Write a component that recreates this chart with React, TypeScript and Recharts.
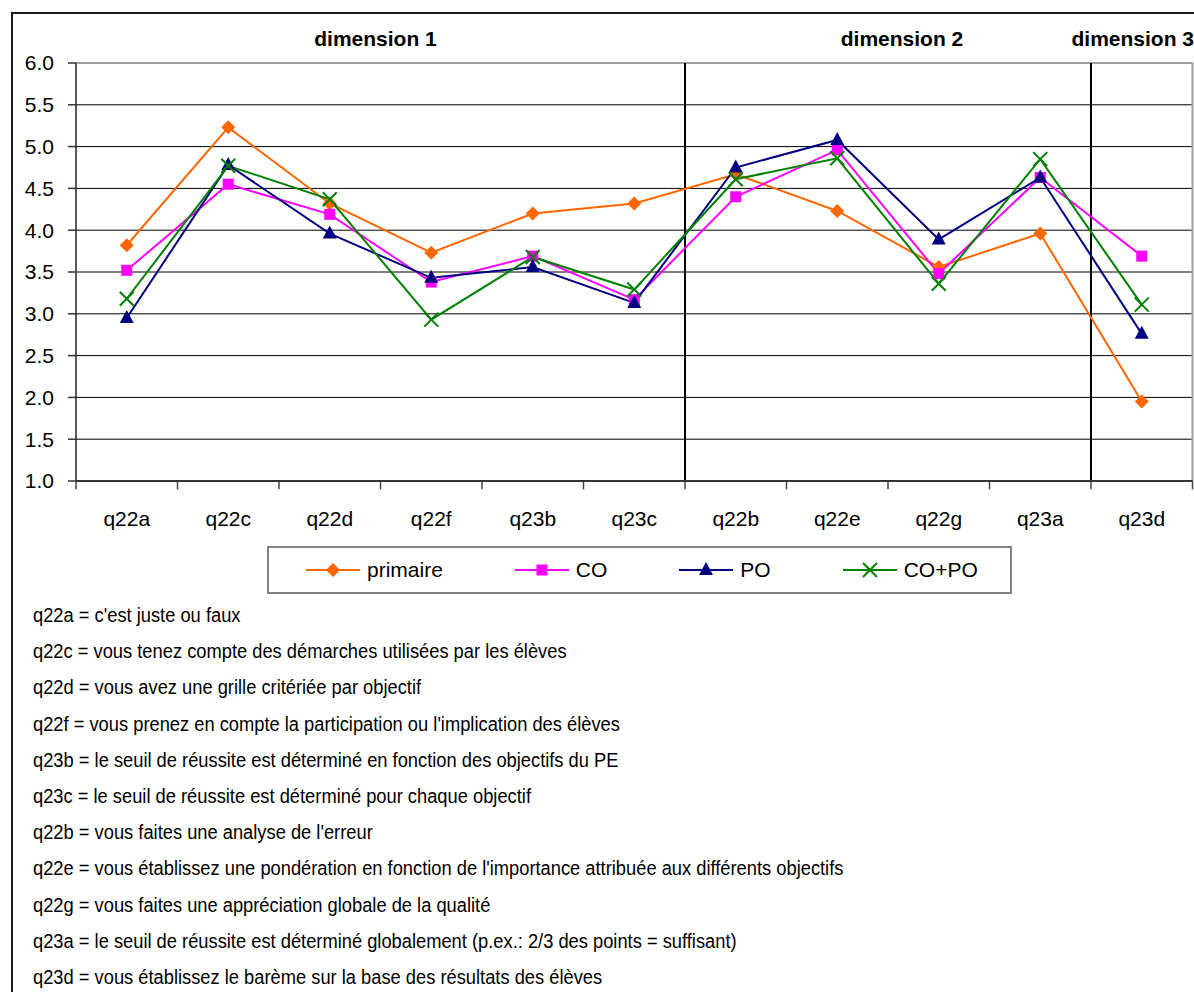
import React from 'react';
import { LineChart, Line, XAxis, YAxis, CartesianGrid, ReferenceLine, ReferenceArea } from 'recharts';

const CATEGORIES = ['q22a', 'q22c', 'q22d', 'q22f', 'q23b', 'q23c', 'q22b', 'q22e', 'q22g', 'q23a', 'q23d'];
const PRIMAIRE = [3.82, 5.23, 4.32, 3.73, 4.2, 4.32, 4.67, 4.23, 3.56, 3.96, 1.95];
const CO = [3.52, 4.55, 4.19, 3.38, 3.69, 3.17, 4.4, 4.96, 3.48, 4.63, 3.69];
const PO = [2.95, 4.78, 3.96, 3.43, 3.56, 3.13, 4.75, 5.08, 3.89, 4.63, 2.76];
const CO_PO = [3.18, 4.77, 4.37, 2.93, 3.68, 3.29, 4.61, 4.86, 3.36, 4.85, 3.11];
const Y_TICKS = [1, 1.5, 2, 2.5, 3, 3.5, 4, 4.5, 5, 5.5, 6];

const DIMENSIONS = ['dimension 1', 'dimension 2', 'dimension 3'];
// first / last category index of each dimension
const DIMENSION_FROM = [0, 6, 10];
const DIMENSION_TO = [5, 9, 10];

const DEFINITIONS = [
  "q22a = c'est juste ou faux",
  'q22c = vous tenez compte des démarches utilisées par les élèves',
  'q22d = vous avez une grille critériée par objectif',
  "q22f = vous prenez en compte la participation ou l'implication des élèves",
  'q23b = le seuil de réussite est déterminé en fonction des objectifs du PE',
  'q23c = le seuil de réussite est déterminé pour chaque objectif',
  "q22b = vous faites une analyse de l'erreur",
  "q22e = vous établissez une pondération en fonction de l'importance attribuée aux différents objectifs",
  'q22g = vous faites une appréciation globale de la qualité',
  'q23a = le seuil de réussite est déterminé globalement (p.ex.: 2/3 des points = suffisant)',
  'q23d = vous établissez le barème sur la base des résultats des élèves',
];

const SERIES = [
  { key: 'primaire', name: 'primaire', color: '#FF6600', shape: 'diamond' },
  { key: 'co', name: 'CO', color: '#FF00FF', shape: 'square' },
  { key: 'po', name: 'PO', color: '#000080', shape: 'triangle' },
  { key: 'copo', name: 'CO+PO', color: '#008000', shape: 'cross' },
];

const data = CATEGORIES.map((cat, i) => ({
  idx: i,
  cat,
  primaire: PRIMAIRE[i],
  co: CO[i],
  po: PO[i],
  copo: CO_PO[i],
}));

const FONT = '"Liberation Sans", Arial, sans-serif';
const labelShift = [-5, 14, -9];

const Marker = ({ cx, cy, shape, color }: any) => {
  if (cx == null || cy == null) return null;
  if (shape === 'diamond') {
    return <polygon points={`${cx},${cy - 7} ${cx + 7},${cy} ${cx},${cy + 7} ${cx - 7},${cy}`} fill={color} />;
  }
  if (shape === 'square') {
    return <rect x={cx - 5.5} y={cy - 5.5} width={11} height={11} fill={color} />;
  }
  if (shape === 'triangle') {
    return <polygon points={`${cx},${cy - 8} ${cx + 7},${cy + 5} ${cx - 7},${cy + 5}`} fill={color} />;
  }
  return (
    <g stroke={color} strokeWidth={2}>
      <line x1={cx - 7} y1={cy - 7} x2={cx + 7} y2={cy + 7} />
      <line x1={cx - 7} y1={cy + 7} x2={cx + 7} y2={cy - 7} />
    </g>
  );
};

const ChartLegend = () => (
  <div
    style={{
      position: 'absolute',
      left: 267,
      top: 546,
      width: 745,
      height: 48,
      border: '2px solid #808080',
      display: 'flex',
      alignItems: 'center',
      paddingLeft: 37,
      boxSizing: 'border-box',
      fontFamily: FONT,
      fontSize: 21,
    }}
  >
    {SERIES.map((s) => (
      <div key={s.key} style={{ display: 'flex', alignItems: 'center', marginRight: 72 }}>
        <svg width={54} height={20}>
          <line x1={0} y1={10} x2={54} y2={10} stroke={s.color} strokeWidth={2} />
          <Marker cx={27} cy={10} shape={s.shape} color={s.color} />
        </svg>
        <span style={{ marginLeft: 7 }}>{s.name}</span>
      </div>
    ))}
  </div>
);

export default function App() {
  const bounds = CATEGORIES.map((_, i) => i - 0.5).concat(CATEGORIES.length - 0.5);
  return (
    <div
      style={{
        position: 'absolute',
        left: 0,
        top: 0,
        width: 1194,
        height: 992,
        overflow: 'hidden',
        background: '#fff',
        fontFamily: FONT,
      }}
    >
      <div
        style={{
          position: 'absolute',
          left: 11,
          top: 12,
          width: 1300,
          height: 1100,
          border: '2px solid #1a1a1a',
        }}
      />
      <div style={{ position: 'absolute', left: 0, top: 0 }}>
        <LineChart width={1194} height={530} data={data} margin={{ top: 63, right: 1.5, bottom: 0, left: 0 }}>
          <CartesianGrid vertical={false} stroke="#000" strokeWidth={1} />
          {DIMENSIONS.map((d, i) => (
            <ReferenceArea
              key={d}
              x1={DIMENSION_FROM[i] - 0.5}
              x2={DIMENSION_TO[i] + 0.5}
              y1={1}
              y2={6}
              fill="none"
              stroke="none"
              ifOverflow="visible"
              label={(props: any) => {
                const vb = props.viewBox || {};
                return (
                  <text
                    x={vb.x + vb.width / 2 + labelShift[i]}
                    y={vb.y - 17}
                    textAnchor="middle"
                    fontFamily={FONT}
                    fontWeight="bold"
                    fontSize={21}
                    fill="#000"
                  >
                    {d}
                  </text>
                );
              }}
            />
          ))}
          <ReferenceLine y={6} stroke="#a0a0a0" strokeWidth={2} />
          <ReferenceLine x={CATEGORIES.length - 0.5} stroke="#a0a0a0" strokeWidth={2} />
          {DIMENSION_FROM.slice(1).map((f) => (
            <ReferenceLine key={f} x={f - 0.5} stroke="#000" strokeWidth={2} />
          ))}
          {bounds.map((b) => (
            <ReferenceLine
              key={'t' + b}
              segment={[
                { x: b, y: 1 },
                { x: b, y: 0.9 },
              ]}
              stroke="#444"
              strokeWidth={1.5}
              ifOverflow="visible"
            />
          ))}
          <XAxis
            type="number"
            dataKey="idx"
            domain={[-0.5, CATEGORIES.length - 0.5]}
            ticks={CATEGORIES.map((_, i) => i)}
            tickFormatter={(v: number) => CATEGORIES[v]}
            interval={0}
            tickLine={false}
            tickSize={8}
            tickMargin={22}
            height={49}
            axisLine={{ stroke: '#333', strokeWidth: 2 }}
            tick={{ fill: '#000', fontSize: 21, fontFamily: FONT }}
          />
          <YAxis
            domain={[1, 6]}
            ticks={Y_TICKS}
            interval={0}
            width={76}
            tickFormatter={(v: number) => v.toFixed(1)}
            tickSize={8}
            tickMargin={14}
            tickLine={{ stroke: '#333', strokeWidth: 1.5 }}
            axisLine={{ stroke: '#222', strokeWidth: 1.5 }}
            tick={{ fill: '#000', fontSize: 21, fontFamily: FONT }}
          />
          {SERIES.map((s) => (
            <Line
              key={s.key}
              type="linear"
              dataKey={s.key}
              name={s.name}
              stroke={s.color}
              strokeWidth={2}
              isAnimationActive={false}
              dot={(p: any) => <Marker key={s.key + p.index} cx={p.cx} cy={p.cy} shape={s.shape} color={s.color} />}
              activeDot={false}
            />
          ))}
        </LineChart>
      </div>
      <ChartLegend />
      <div
        style={{
          position: 'absolute',
          left: 33,
          top: 597,
          fontSize: 20,
          lineHeight: '36.2px',
          color: '#000',
          whiteSpace: 'nowrap',
          transform: 'scaleX(0.915)',
          transformOrigin: 'left top',
        }}
      >
        {DEFINITIONS.map((t) => (
          <div key={t}>{t}</div>
        ))}
      </div>
    </div>
  );
}
